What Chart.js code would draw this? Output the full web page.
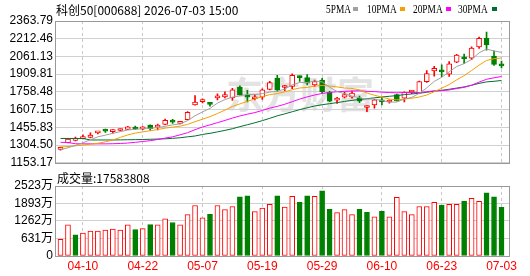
<!DOCTYPE html>
<html>
<head>
<meta charset="utf-8">
<script src="https://cdn.jsdelivr.net/npm/chart.js@4.4.1/dist/chart.umd.min.js"></script>
<style>
  body { margin: 0; width: 530px; height: 276px; background: #fff; position: relative; overflow: hidden; font-family: "Liberation Sans", "Noto Sans CJK SC", sans-serif; }
  canvas { position: absolute; left: 0; }
  #priceCanvas { top: 0; }
  #volumeCanvas { top: 176px; }
  .txt { position: absolute; white-space: nowrap; color: #000; }
  #title { left: 56px; top: 1px; font: 12px "Noto Sans CJK SC", sans-serif; }
  #volTitle { left: 57px; top: 169px; font: 12px "Noto Sans CJK SC", sans-serif; }
  .lg { position: absolute; top: 1px; font: 13px "Liberation Serif", serif; color: #000; transform: scaleX(0.72); transform-origin: left top; }
  .sq { position: absolute; top: 7px; width: 5px; height: 4px; }
  #watermark { position: absolute; left: 226px; top: 66px; font: bold 37px "Noto Sans CJK SC", sans-serif; color: #e3e3e3; }
</style>
</head>
<body>
<div id="watermark">东方财富</div>
<canvas id="priceCanvas" width="530" height="172"></canvas>
<canvas id="volumeCanvas" width="530" height="100"></canvas>
<div class="txt" id="title">科创50[000688] 2026-07-03 15:00</div>
<div class="lg" style="left:326px">5PMA</div><div class="sq" style="left:353px;background:#a0a0a0"></div>
<div class="lg" style="left:367px">10PMA</div><div class="sq" style="left:400px;background:#f5a000"></div>
<div class="lg" style="left:413px">20PMA</div><div class="sq" style="left:446px;background:#ff00ff"></div>
<div class="lg" style="left:458px">30PMA</div><div class="sq" style="left:492px;background:#00702e"></div>
<div class="txt" id="volTitle">成交量:17583808</div>
<script>
const dates = [
  "04-07","04-08","04-09","04-10","04-13","04-14","04-15","04-16","04-17","04-20",
  "04-21","04-22","04-23","04-24","04-27","04-28","04-29","04-30","05-06","05-07",
  "05-08","05-11","05-12","05-13","05-14","05-15","05-18","05-19","05-20","05-21",
  "05-22","05-25","05-26","05-27","05-28","05-29","06-01","06-02","06-03","06-04",
  "06-05","06-08","06-09","06-10","06-11","06-12","06-15","06-16","06-17","06-18",
  "06-22","06-23","06-24","06-25","06-26","06-29","06-30","07-01","07-02","07-03"
];
const dateTicks = ["04-10","04-22","05-07","05-19","05-29","06-10","06-23","07-03"];

const opens = [1268,1325,1344,1360,1370,1408,1428,1420,1429,1439,1456,1440,1475,1458,1481,1505,1490,1522,1647,1676,
  1656,1707,1716,1707,1799,1726,1700,1713,1780,1874,1796,1805,1884,1880,1818,1860,1758,1688,1713,1713,
  1707,1625,1647,1684,1672,1735,1705,1758,1749,1846,1938,1933,1910,2013,2045,2046,2143,2215,2065,1985];
const highs = [1288,1360,1372,1392,1408,1416,1441,1436,1444,1464,1466,1463,1478,1483,1526,1524,1506,1591,1727,1699,
  1670,1741,1760,1788,1810,1772,1738,1785,1849,1901,1815,1913,1896,1907,1860,1874,1763,1713,1758,1766,
  1722,1639,1695,1713,1690,1740,1760,1772,1850,1940,1976,1990,2018,2080,2082,2143,2226,2270,2109,2021];
const lows = [1262,1322,1340,1358,1366,1400,1412,1406,1426,1437,1438,1437,1430,1433,1478,1490,1486,1519,1645,1664,
  1637,1691,1707,1685,1730,1672,1689,1694,1775,1763,1770,1785,1847,1818,1805,1749,1675,1660,1707,1705,
  1666,1590,1619,1647,1662,1680,1674,1744,1745,1840,1893,1888,1890,2008,1999,2034,2129,2115,1985,1963];
const closes = [1282,1356,1350,1366,1390,1413,1424,1433,1436,1461,1441,1460,1444,1463,1516,1500,1502,1583,1672,1682,
  1652,1724,1735,1777,1735,1713,1716,1777,1838,1777,1801,1901,1880,1832,1847,1758,1680,1695,1735,1749,
  1680,1631,1690,1674,1680,1684,1755,1765,1846,1915,1960,1929,1999,2073,2040,2132,2215,2159,1993,1980];

// volume in 万
const volumes = [603,1120,763,825,898,898,935,972,935,1120,948,985,1132,1120,1341,1206,1120,1489,1821,1378,
  1501,1821,1674,1785,2129,2166,1600,1723,1858,2166,1760,2154,1945,2166,2154,2351,1686,1563,1674,1489,
  1686,1575,1415,1612,1415,2117,1600,1489,1785,1785,1932,1834,1858,1858,1981,2080,1969,2277,2129,1758];

const ma5 = [1264,1282,1302,1324,1349,1375,1389,1405,1419,1433,1439,1446,1448,1454,1465,1477,1485,1513,1555,1588,
  1618,1663,1693,1714,1725,1737,1735,1744,1756,1764,1782,1819,1839,1838,1852,1844,1799,1762,1743,1723,
  1708,1698,1697,1685,1671,1672,1697,1712,1746,1793,1848,1883,1930,1975,2000,2035,2092,2124,2108,2096];
const ma10 = [1288,1292,1298,1305,1312,1320,1332,1348,1370,1391,1407,1417,1427,1437,1449,1458,1466,1481,1504,1526,
  1547,1574,1603,1634,1656,1678,1699,1718,1735,1744,1759,1777,1792,1797,1808,1813,1809,1801,1791,1788,
  1776,1749,1730,1714,1697,1690,1697,1704,1715,1732,1760,1790,1821,1861,1897,1941,1987,2027,2042,2048];
const ma20 = [1328,1326,1316,1315,1315,1315,1315,1316,1318,1322,1328,1335,1342,1352,1364,1375,1392,1410,1436,1459,
  1477,1496,1515,1535,1553,1568,1582,1600,1620,1635,1653,1675,1697,1716,1732,1745,1754,1760,1763,1766,
  1768,1763,1761,1756,1753,1751,1753,1753,1753,1760,1768,1769,1775,1787,1797,1816,1842,1866,1879,1890];
const ma30 = [1361,1361,1361,1361,1348,1348,1348,1348,1349,1350,1351,1352,1354,1356,1358,1362,1367,1375,1382,1395,
  1405,1417,1430,1444,1462,1478,1495,1513,1533,1554,1571,1589,1607,1623,1638,1649,1658,1667,1677,1686,
  1694,1700,1708,1715,1721,1727,1735,1741,1747,1755,1765,1772,1781,1791,1801,1815,1831,1844,1849,1856];

const priceTicks = [1153.17,1304.50,1455.83,1607.15,1758.48,1909.81,2061.13,2212.46,2363.79];
const volumeTicks = [0,631,1262,1893,2523];

const RED = "#ff0000";
const GREEN = "#008000";
const X_MIN = -0.736;
const X_MAX = 60.137;

const tickIndexes = dateTicks.map((d) => dates.indexOf(d));

const framePlugin = {
  id: "frame",
  afterDraw(chart) {
    const a = chart.chartArea;
    const ctx = chart.ctx;
    ctx.save();
    ctx.strokeStyle = "#999999";
    ctx.lineWidth = 1;
    ctx.strokeRect(Math.round(a.left) + 0.5, Math.round(a.top) + 0.5,
      Math.round(a.right - a.left) - 1, Math.round(a.bottom - a.top));
    ctx.restore();
  },
};

function xScale(showLabels) {
  return {
    type: "linear",
    min: X_MIN,
    max: X_MAX,
    offset: false,
    afterBuildTicks: (axis) => {
      axis.ticks = tickIndexes.map((v) => ({ value: v }));
    },
    afterFit: (axis) => {
      axis.height = showLabels ? 20 : 0;
    },
    grid: { color: "#c8c8c8", drawTicks: false, offset: false },
    border: { display: false, dash: [3, 3] },
    ticks: {
      display: showLabels,
      padding: 3,
      maxRotation: 0,
      autoSkip: false,
      color: RED,
      font: { family: "Liberation Sans", size: 12 },
      callback: (v) => dates[v],
    },
  };
}

function yAxisBase(min, max, values, fmt) {
  return {
    min: min,
    max: max,
    afterBuildTicks: (axis) => {
      axis.ticks = values.map((v) => ({ value: v }));
    },
    afterFit: (axis) => {
      axis.width = 55;
    },
    grid: { color: "#d0d0d0", drawTicks: false },
    border: { display: false },
    ticks: {
      padding: 2,
      color: "#000",
      font: { family: "Liberation Sans, Noto Sans CJK SC", size: 12 },
      callback: fmt,
    },
  };
}

function drawPrice() {
  const up = closes.map((c, i) => c >= opens[i]);
  const ctx = document.getElementById("priceCanvas").getContext("2d");
  const lineSet = (label, values, color) => ({
    type: "line",
    label: label,
    data: values.map((v, i) => ({ x: i, y: v })),
    borderColor: color,
    borderWidth: 1,
    pointRadius: 0,
    tension: 0,
    order: 0,
  });

  new Chart(ctx, {
    type: "bar",
    data: {
      datasets: [
        lineSet("5PMA", ma5, "#a0a0a0"),
        lineSet("10PMA", ma10, "#f5a000"),
        lineSet("20PMA", ma20, "#ff00ff"),
        lineSet("30PMA", ma30, "#00702e"),
        {
          label: "body",
          data: opens.map((o, i) => ({ x: i, y: [o, closes[i]] })),
          backgroundColor: up.map((u) => (u ? "#ffffff" : GREEN)),
          borderColor: up.map((u) => (u ? RED : GREEN)),
          borderWidth: 1,
          borderSkipped: false,
          barThickness: 5,
          minBarLength: 2,
          grouped: false,
          order: 1,
        },
        {
          label: "wick",
          data: lows.map((l, i) => ({ x: i, y: [l, highs[i]] })),
          backgroundColor: up.map((u) => (u ? RED : GREEN)),
          borderWidth: 0,
          barThickness: 1,
          grouped: false,
          order: 2,
        },
      ],
    },
    options: {
      responsive: false,
      animation: false,
      events: [],
      layout: { padding: { top: 21, bottom: 6, right: 20, left: 0 } },
      plugins: { legend: { display: false }, tooltip: { enabled: false } },
      scales: {
        x: xScale(false),
        y: yAxisBase(1153.17, 2363.79, priceTicks, (v) => v.toFixed(2)),
      },
    },
    plugins: [framePlugin],
  });
}

function drawVolume() {
  // volume colour follows the close against the previous close
  const up = closes.map((c, i) => i === 0 || c >= closes[i - 1]);
  const ctx = document.getElementById("volumeCanvas").getContext("2d");

  new Chart(ctx, {
    type: "bar",
    data: {
      datasets: [
        {
          label: "成交量",
          data: volumes.map((v, i) => ({ x: i, y: v })),
          backgroundColor: up.map((u) => (u ? "#ffffff" : GREEN)),
          borderColor: up.map((u) => (u ? RED : GREEN)),
          borderWidth: 1,
          borderSkipped: false,
          barThickness: 5,
          grouped: false,
        },
      ],
    },
    options: {
      responsive: false,
      animation: false,
      events: [],
      layout: { padding: { top: 10, bottom: 0, right: 20, left: 0 } },
      plugins: { legend: { display: false }, tooltip: { enabled: false } },
      scales: {
        x: xScale(true),
        y: yAxisBase(0, 2523, volumeTicks, (v) => (v === 0 ? "0" : v + "万")),
      },
    },
    plugins: [framePlugin],
  });
}

drawPrice();
drawVolume();
</script>
</body>
</html>
